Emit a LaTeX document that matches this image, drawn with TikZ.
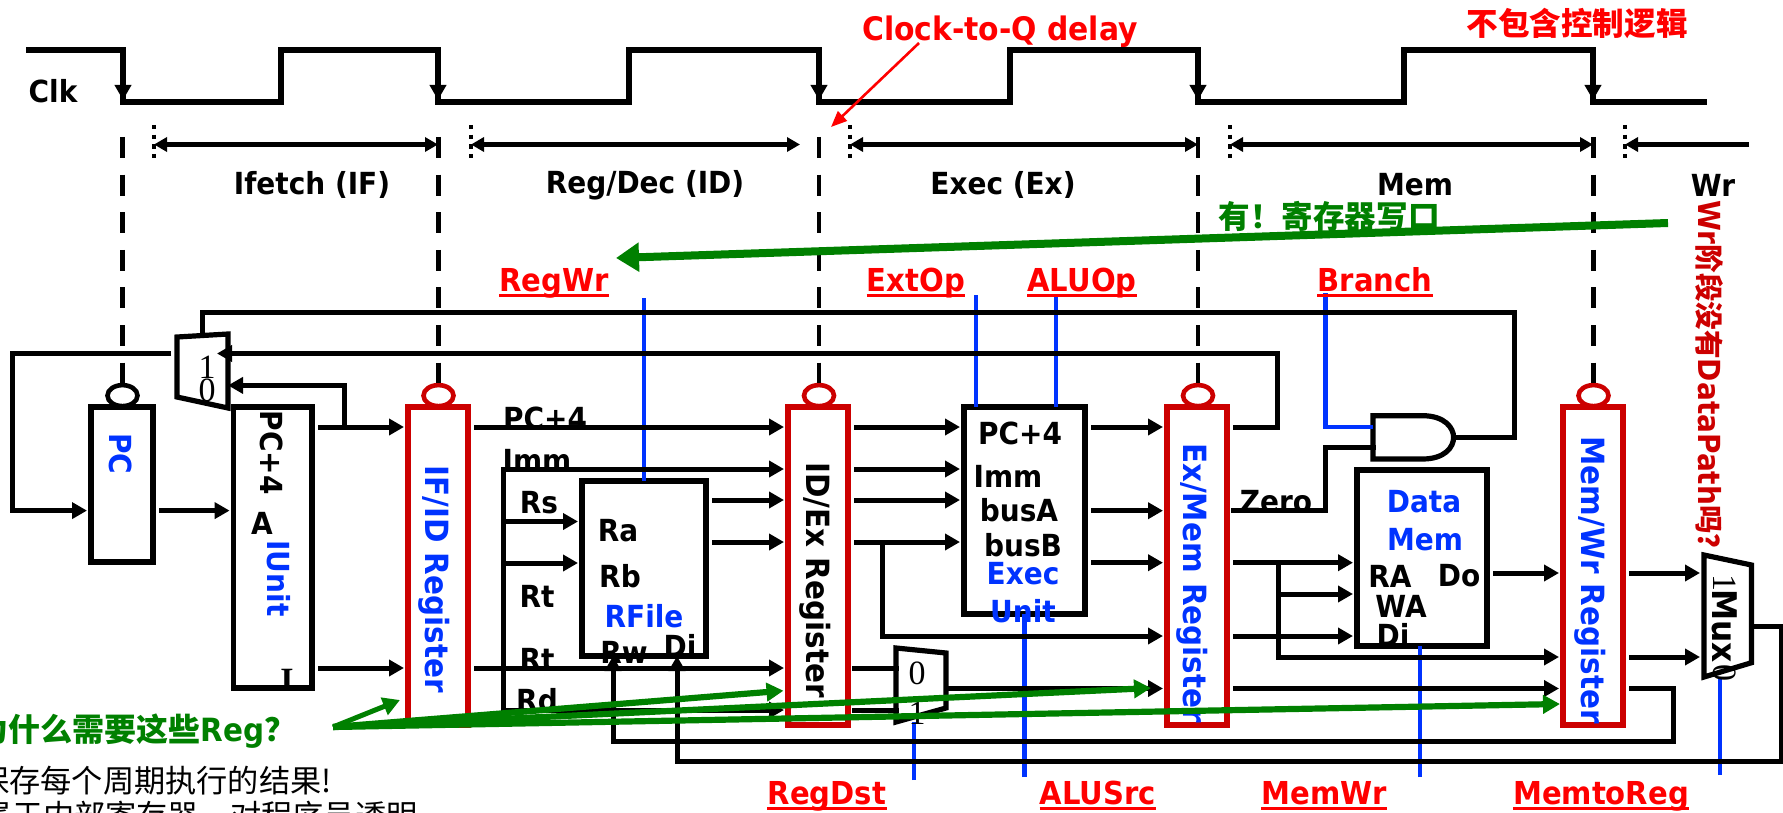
\documentclass[tikz,border=0pt]{standalone}
\usepackage{fontspec}
\usepackage{xcolor}
\usetikzlibrary{arrows.meta,shapes.geometric}
\setmainfont{DejaVu Sans}[FakeStretch=0.92]
\newfontfamily\cjk{Noto Sans CJK SC}
\newfontfamily\thinserif{Liberation Serif}
\definecolor{regred}{HTML}{CC0000}
\definecolor{ctrlred}{HTML}{FF0000}
\definecolor{ctrlblue}{HTML}{0033FF}
\definecolor{notegreen}{HTML}{008000}
\tikzset{
  blockbox/.style={draw=black,fill=white,line width=2.6pt,inner sep=0pt,outer sep=0pt},
  regbox/.style={draw=regred,fill=white,line width=2.7pt,inner sep=0pt,outer sep=0pt,
    minimum width=30pt,minimum height=159pt},
  gatebox/.style={inner sep=0pt,outer sep=0pt},
  pcbubble/.style={ellipse,draw=black,fill=white,line width=2.3pt,inner sep=0pt,
    minimum width=15pt,minimum height=10.5pt},
  regbubble/.style={pcbubble,draw=regred},
  shapeline/.style={line width=2.6pt},
  plainwire/.style={line width=2.5pt,line cap=rect},
  busarrow/.style={-{Triangle[length=7.5pt,width=8pt]},line width=2.5pt,
    shorten <=3pt,shorten >=2pt},
  clockarrow/.style={-{Triangle[length=7.5pt,width=8pt]},line width=2pt},
  spanarrow/.style={{Triangle[length=6.5pt,width=7pt]}-{Triangle[length=6.5pt,width=7pt]},line width=2.5pt},
  clockdash/.style={line width=2.2pt,dash pattern=on 10.5pt off 8.3pt},
  tickdash/.style={line width=2.2pt,dash pattern=on 2.2pt off 2.6pt},
  ctrlline/.style={draw=ctrlblue,line width=2.2pt},
  notearrow/.style={draw=notegreen,line width=3.1pt,-{Triangle[length=8.5pt,width=9pt]}},
  boldlabel/.style={font=\bfseries\fontsize{15.2}{18}\selectfont,inner sep=0pt},
  bluelabel/.style={boldlabel,text=ctrlblue},
  regtext/.style={font=\bfseries\fontsize{16}{18}\selectfont,inner sep=0pt,rotate=-90},
  ctrllabel/.style={font=\bfseries\fontsize{15.8}{18}\selectfont,inner sep=0pt,text=ctrlred},
  underlabel/.style={ctrllabel,anchor=base,text depth=2pt},
  ctrlunder/.style={draw=ctrlred,line width=1.1pt},
  digitlabel/.style={font=\thinserif\fontsize{17}{18}\selectfont,inner sep=0pt},
  cjklabel/.style={font=\cjk\bfseries\fontsize{15.8}{18}\selectfont,inner sep=0pt}
}
\begin{document}
\begin{tikzpicture}[x=0.5pt,y=-0.5pt]
  \useasboundingbox (0,0) rectangle (1783,813);
  % clock edges and wire levels
  \foreach \name/\xx in {clka/123,clkb/438,clkc/819,clkd/1198,clke/1593}
    \coordinate (\name) at (\xx,102);
  \foreach \name/\xx in {tickif/154,tickid/471,tickex/850,tickmem/1230,tickwr/1625,
      spanidend/800,spanwrend/1749,retx/1277.5,leftx/12,tapx/344.4,busx/503,tapb/882,
      tapc/1278,zerox/1325.6,fbx/1514.5,wbra/1673,wbdi/1781,rwx/613,dix/677}
    \coordinate (\name) at (\xx,0);
  \foreach \name/\yy in {spany/144.5,dashtop/137,ticktop/125,tickbot/163,lvlfb/312,lvlret/353.5,lvlmuxb/385.4,
      lvlpc/427,lvlandb/447.7,lvlimm/469,lvla/500,lvlpcin/510.6,lvlzero/510.7,lvlrs/521.5,
      lvlb/542,lvlres/562.7,lvlrtb/563,lvldo/573,lvlwa/594,lvlmuxout/626,lvlalu/636,
      lvlmemrd/657,lvlrt/668,lvlreg/688.5,lvlrd/710,lvlwbra/741,lvlwbdi/761.7}
    \coordinate (\name) at (0,\yy);
  \coordinate (ctrlregwr) at (644,298);
  \coordinate (ctrlext) at (976,295);
  \coordinate (ctrlop) at (1056,295);
  \coordinate (ctrlbranch) at (1325.5,293);
  \coordinate (ctrldst) at (914,780);
  \coordinate (ctrlsrc) at (1024.5,777);
  \coordinate (ctrlmemwr) at (1420,777);
  \coordinate (ctrlwb) at (1720,775);
  \coordinate (delayfrom) at (919,43);
  \coordinate (delaytip) at (831,127);
  \coordinate (noteone) at (1668,223);
  \coordinate (notetwo) at (616,258);
  \coordinate (notefrom) at (333,727);
  \coordinate (noteif) at (400,700);
  \coordinate (noteid) at (783.5,690.7);
  \coordinate (noteex) at (1151,688);
  \coordinate (notewr) at (1560,704);

  % blocks
  \node[blockbox,minimum width=31pt,minimum height=77.5pt] (pc) at (122,484.5) {};
  \node[blockbox,minimum width=39.2pt,minimum height=140.5pt] (iunit) at (272.8,547.5) {};
  \node[blockbox,minimum width=62pt,minimum height=87.5pt] (rfile) at (644,568.5) {};
  \node[blockbox,minimum width=60.5pt,minimum height=103.5pt] (execunit) at (1024.5,510.5) {};
  \node[blockbox,minimum width=65pt,minimum height=88pt] (datamem) at (1422,558) {};
  \node[regbox] (ifid) at (438,566) {};
  \node[regbox] (idex) at (818,566) {};
  \node[regbox] (exmem) at (1197,566) {};
  \node[regbox] (memwr) at (1593,566) {};
  \node[gatebox,minimum width=25.5pt,minimum height=37pt] (pcmux) at (202.5,371) {};
  \node[gatebox,minimum width=25pt,minimum height=37pt] (dstmux) at (921,685) {};
  \node[gatebox,minimum width=23.7pt,minimum height=61pt] (wrmux) at (1727.7,616) {};
  \node[gatebox,minimum width=40.3pt,minimum height=21.6pt] (andgate) at (1413.3,437.4) {};
  \draw[shapeline] (177,337) -- (228,334) -- (228,408) -- (177,397) -- cycle;
  \draw[shapeline] (896,648) -- (946,653) -- (946,708) -- (896,722) -- cycle;
  \draw[shapeline] (1704,555) -- (1751.5,565) -- (1751.5,662.7) -- (1704,677) -- cycle;
  \draw[shapeline] (1373,415.7) -- (1422.5,415.7) .. controls (1445,415.7) and (1453.6,428) .. (1453.6,437.4)
    .. controls (1453.6,447) and (1445,459) .. (1422.5,459) -- (1373,459) -- cycle;

  % clock
  \draw[shapeline] (26,50) -| (clka) -| (281,50) -| (clkb) -| (629,50) -| (clkc) -| (1010,50)
    -| (clkd) -| (1404,50) -| (clke) -- (1707,102);
  \foreach \name in {clka,clkb,clkc,clkd,clke}
    \draw[clockarrow] ([yshift=15pt]\name) -- ([yshift=1pt]\name);
  \foreach \name in {tickif,tickid,tickex,tickmem,tickwr}
    \draw[tickdash] (\name |- ticktop) -- (\name |- tickbot);
  \draw[spanarrow] (tickif |- spany) -- (clkb |- spany);
  \draw[spanarrow] (tickid |- spany) -- (spanidend |- spany);
  \draw[spanarrow] (tickex |- spany) -- (clkd |- spany);
  \draw[spanarrow] (tickmem |- spany) -- (clke |- spany);
  \draw[-{Triangle[length=6.5pt,width=7pt]},line width=2.5pt] (spanwrend |- spany) -- (tickwr |- spany);

  % control lines
  \draw[ctrlline] (ctrlregwr) -- (ctrlregwr |- rfile.north);
  \draw[ctrlline] (ctrlext) -- (ctrlext |- execunit.north);
  \draw[ctrlline] (ctrlop) -- (ctrlop |- execunit.north);
  \draw[ctrlline] (ctrlbranch) |- (andgate.west |- lvlpc);
  \draw[ctrlline] (ctrldst) -- (ctrldst |- dstmux.south);
  \draw[ctrlline] (ctrlsrc) -- (ctrlsrc |- execunit.south);
  \draw[ctrlline] (ctrlmemwr) -- (ctrlmemwr |- datamem.south);
  \draw[ctrlline] (ctrlwb) -- (ctrlwb |- wrmux.south);

  % clock bubbles
  \node[pcbubble] (pcclk) at (122.5,395.6) {};
  \node[regbubble] (ifidclk) at (438.5,395.6) {};
  \node[regbubble] (idexclk) at (819,395.6) {};
  \node[regbubble] (exmemclk) at (1198,395.6) {};
  \node[regbubble] (memwrclk) at (1593.5,395.6) {};
  \foreach \name in {pcclk,ifidclk,idexclk,exmemclk,memwrclk}
    \draw[clockdash] (\name.north |- dashtop) -- (\name.north);

  % wires
  \foreach \from/\to/\lvl in {pc/iunit/lvlpcin,iunit/ifid/lvlpc,iunit/ifid/lvlrt,ifid/idex/lvlpc,
      ifid/idex/lvlrt,idex/execunit/lvlpc,idex/execunit/lvlimm,idex/execunit/lvla,idex/execunit/lvlb,
      rfile/idex/lvla,rfile/idex/lvlb,execunit/exmem/lvlpc,execunit/exmem/lvlzero,execunit/exmem/lvlres,
      exmem/datamem/lvlres,exmem/datamem/lvlalu,datamem/memwr/lvldo,memwr/wrmux/lvldo,
      memwr/wrmux/lvlmemrd,exmem/memwr/lvlreg}
    \draw[busarrow] (\from.east |- \lvl) -- (\to.west |- \lvl);
  \draw[plainwire] (busx |- lvlimm) -- (busx |- lvlrd);
  \draw[busarrow,shorten <=0pt] (busx |- lvlimm) -- (idex.west |- lvlimm);
  \draw[busarrow,shorten <=0pt] (busx |- lvlrd) -- (idex.west |- lvlrd);
  \draw[busarrow,shorten <=0pt] (busx |- lvlrs) -- (rfile.west |- lvlrs);
  \draw[busarrow,shorten <=0pt] (busx |- lvlrtb) -- (rfile.west |- lvlrtb);
  \draw[busarrow,shorten >=-5.5pt] (exmem.east |- lvlpc) -| (retx |- lvlret) -- (pcmux.east |- lvlret);
  \draw[busarrow,shorten <=0pt,shorten >=0pt] (tapx |- lvlpc) |- (pcmux.east |- lvlmuxb);
  \draw[plainwire] (andgate.east) -| (fbx |- lvlfb) -- (pcmux.north |- lvlfb) -- (pcmux.north);
  \draw[busarrow] (pcmux.west |- lvlret) -- (leftx |- lvlret) -- (leftx |- lvlpcin) -- (pc.west |- lvlpcin);
  \draw[plainwire,shorten <=3pt] (exmem.east |- lvlzero) -- (zerox |- lvlzero) -- (zerox |- lvlandb) -- (andgate.west |- lvlandb);
  \draw[plainwire,shorten <=3pt] (idex.east |- lvlrt) -- (dstmux.west |- lvlrt);
  \draw[plainwire,shorten <=3pt] (idex.east |- lvlrd) -- (dstmux.west |- lvlrd);
  \draw[busarrow,shorten <=0pt] (dstmux.east |- lvlreg) -- (exmem.west |- lvlreg);
  \draw[busarrow,shorten <=0pt] (tapb |- lvlb) |- (exmem.west |- lvlalu);
  \draw[busarrow,shorten <=0pt] (tapc |- lvlres) |- (memwr.west |- lvlmemrd);
  \draw[busarrow,shorten <=0pt] (tapc |- lvlwa) -- (datamem.west |- lvlwa);
  \draw[busarrow,shorten >=0pt] (memwr.east |- lvlreg) -- (wbra |- lvlreg) -- (wbra |- lvlwbra) -- (rwx |- lvlwbra) -- (rwx |- rfile.south);
  \draw[busarrow,shorten <=1pt,shorten >=0pt] (wrmux.east |- lvlmuxout) -- (wbdi |- lvlmuxout) -- (wbdi |- lvlwbdi) -- (dix |- lvlwbdi) -- (dix |- rfile.south);

  % labels
  \node[boldlabel] (clklabel) at (53,91) {Clk};
  \node[boldlabel] (iflabel) at (312,185) {Ifetch (IF)};
  \node[boldlabel] (idlabel) at (645,185) {Reg/Dec (ID)};
  \node[boldlabel] (exlabel) at (1003,185) {Exec (Ex)};
  \node[boldlabel] (memlabel) at (1415,185) {Mem};
  \node[boldlabel] (wrlabel) at (1713,185) {Wr};
  \node[ctrllabel,font=\bfseries\fontsize{16.2}{18}\selectfont] (clocktoq) at (1000,32) {Clock-to-Q delay};
  \draw[draw=ctrlred,line width=1.3pt,-{Triangle[length=8pt,width=6.5pt]}] (delayfrom) -- (delaytip);
  \node[cjklabel,text=ctrlred] (nologic) at (1577,23) {不包含控制逻辑};
  \node[cjklabel,text=notegreen] (haswrite) at (1329,216) {有！寄存器写口};
  \node[boldlabel,text=regred,rotate=-90,anchor=west] (wrnote) at (1710,200) {Wr{\cjk\fontsize{14.3}{18}\selectfont 阶段没有}DataPath{\cjk\fontsize{14.3}{18}\selectfont 吗？}};
  \foreach \name/\xx/\yy/\txt in {regwrlbl/554/291/RegWr,extoplbl/916/291/ExtOp,aluoplbl/1082/291/ALUOp,
      branchlbl/1375/291/Branch,regdstlbl/827/804/RegDst,alusrclbl/1098/804/ALUSrc,
      memwrlbl/1324/804/MemWr,memtoreglbl/1601/804/MemtoReg}{
    \node[underlabel] (\name) at (\xx,\yy) {\txt};
    \draw[ctrlunder] (\name.south west) -- (\name.south east);
  }
  \node[bluelabel,rotate=-90] (pctext) at (120.5,454) {PC};
  \node[boldlabel,rotate=-90] (pcfour) at (272,452.6) {PC+4};
  \node[boldlabel] (iunita) at (262,523) {A};
  \node[bluelabel,rotate=-90] (iunittext) at (278.6,578.5) {IUnit};
  \node[font=\thinserif\bfseries\fontsize{17}{18}\selectfont,inner sep=0pt] (iunitout) at (287,680) {I};
  \node[regtext,text=ctrlblue] (ifidtext) at (434,579) {IF/ID Register};
  \node[regtext] (idextext) at (815,580) {ID/Ex Register};
  \node[regtext,text=ctrlblue] (exmemtext) at (1192,583) {Ex/Mem Register};
  \node[regtext,text=ctrlblue] (memwrtext) at (1590,580) {Mem/Wr Register};
  \foreach \name/\xx/\yy/\txt in {pcfourid/545/418/PC+4,immid/537/460/Imm,rslbl/539/503/Rs,rtlbl/537/596/Rt,
      rtlow/537/659/Rt,rdlow/537/700/Rd,ralbl/618/531/Ra,rblbl/620/576/Rb,rwlbl/624/652/Rw,dilbl/680/646/Di,
      pcfourex/1020/433/PC+4,immex/1008/476/Imm,busalbl/1019/510/busA,busblbl/1023/545/busB,
      zerolbl/1276/502/Zero,ralow/1390/576/RA,dolbl/1459/576/Do,walbl/1401/606/WA,dimem/1393/635/Di}
    \node[boldlabel] (\name) at (\xx,\yy) {\txt};
  \foreach \name/\xx/\yy/\txt in {rfilelbl/644/616/RFile,execlbl/1023/574/Exec,unitlbl/1023/611/Unit,
      datalbl/1424/502/Data,memdatalbl/1425/540/Mem}
    \node[bluelabel] (\name) at (\xx,\yy) {\txt};
  \node[digitlabel] (pcone) at (207,367) {1};
  \node[digitlabel] (pczero) at (207,390) {0};
  \node[digitlabel] (dstzero) at (917,673) {0};
  \node[digitlabel] (dstone) at (917,713) {1};
  \node[digitlabel,rotate=-90] (wrone) at (1725,583) {1};
  \node[boldlabel,font=\bfseries\fontsize{17}{18}\selectfont,rotate=-90] (muxtext) at (1725,626) {Mux};
  \node[digitlabel,rotate=-90] (wrzero) at (1725,673) {0};

  % notes
  \draw[-{Triangle[length=11.5pt,width=14pt]},draw=notegreen,fill=notegreen,line width=4pt] (noteone) -- (notetwo);
  \draw[notearrow,line width=2.5pt] (notefrom) -- (noteif);
  \draw[notearrow] (notefrom) -- (noteid);
  \draw[notearrow] (notefrom) -- (noteex);
  \draw[notearrow] (notefrom) -- (notewr);
  \node[font=\bfseries\fontsize{16}{18}\selectfont,inner sep=0pt,text=notegreen,anchor=east] (whyreg) at (297,731) {{\cjk 为什么需要这些}Reg{\cjk ？}};
  \node[font=\cjk\fontsize{15.6}{18}\selectfont,inner sep=0pt,anchor=east] (noteline) at (332,781) {保存每个周期执行的结果!};
  \node[font=\cjk\fontsize{15.6}{18}\selectfont,inner sep=0pt,anchor=east] (notelinetwo) at (418,816) {属于内部寄存器，对程序员透明};
\end{tikzpicture}
\end{document}
